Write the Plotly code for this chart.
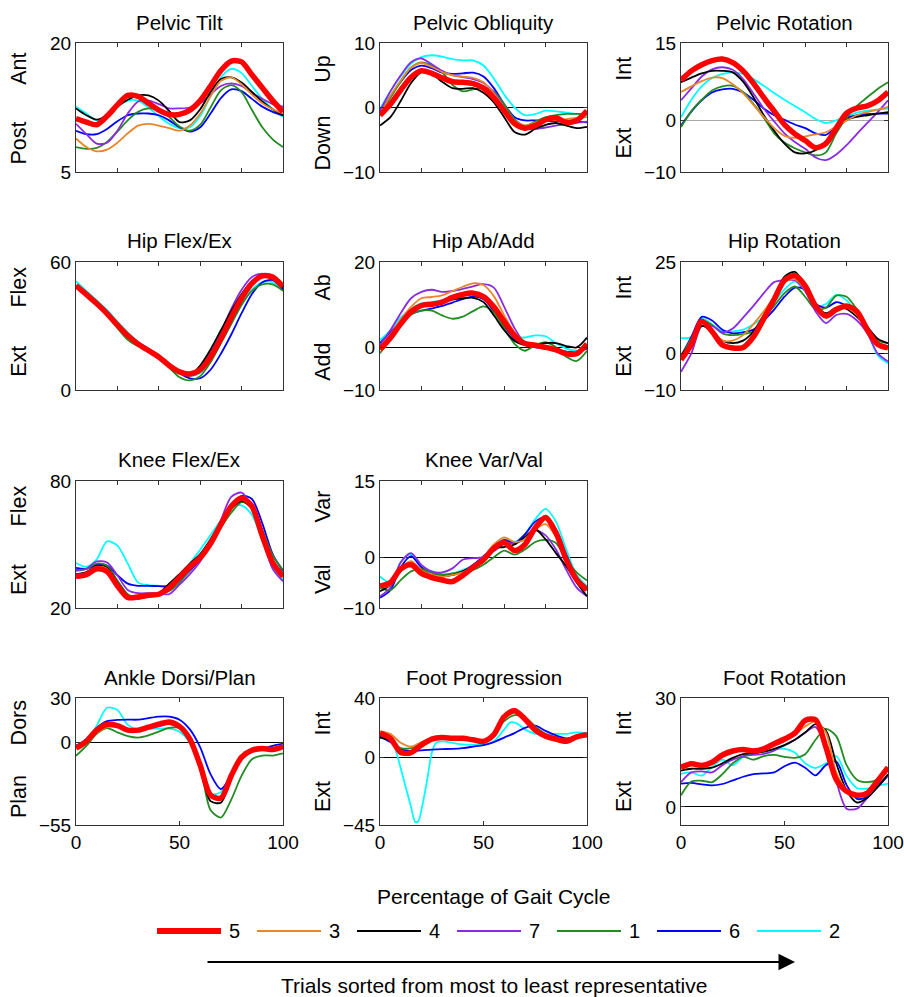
import plotly.graph_objects as go

# ---------------- data ----------------
PCT = [0, 5, 10, 15, 20, 25, 30, 35, 40, 45, 50, 55, 60, 65, 70, 75, 80, 85, 90, 95, 100]
TRIALS = ["5", "3", "4", "7", "1", "6", "2"]
TRIAL_COLORS = ["#ff0000", "#e8862a", "#000000", "#8a2be2", "#228b22", "#0000ff", "#00ffff"]

PELVIC_TILT = {
    "5": [11.2, 10.8, 10.5, 11.5, 12.8, 13.9, 13.8, 13.0, 12.2, 11.7, 11.7, 12.2, 13.3, 15.0, 16.8, 17.9, 17.8, 16.3, 14.8, 13.3, 12.0],
    "3": [8.9, 7.9, 7.4, 7.6, 8.4, 9.5, 10.4, 10.6, 10.4, 10.1, 9.8, 10.4, 11.8, 13.8, 15.6, 16.0, 15.2, 14.0, 13.0, 12.3, 11.8],
    "4": [12.4, 11.6, 11.1, 11.6, 12.6, 13.4, 13.9, 13.9, 13.3, 12.1, 10.8, 11.0, 12.3, 14.3, 15.8, 16.0, 15.4, 14.3, 13.2, 12.3, 11.6],
    "7": [10.6, 9.4, 8.3, 8.4, 9.8, 11.8, 13.2, 13.3, 12.9, 12.4, 12.4, 12.5, 13.0, 14.0, 15.0, 15.3, 15.0, 14.2, 13.5, 12.9, 12.6],
    "1": [7.9, 7.7, 7.8, 8.5, 9.7, 11.0, 12.0, 12.4, 12.2, 11.4, 10.3, 9.8, 10.5, 12.5, 14.5, 15.1, 14.3, 12.2, 10.2, 8.8, 7.9],
    "6": [9.8, 9.4, 9.4, 10.0, 10.9, 11.6, 11.8, 11.8, 11.6, 11.0, 10.2, 9.7, 10.2, 11.8, 13.6, 14.6, 14.4, 13.5, 12.6, 12.0, 11.6],
    "2": [12.6, 11.8, 11.0, 11.6, 12.6, 13.3, 13.3, 12.5, 11.5, 10.6, 10.1, 10.2, 11.5, 13.8, 16.0, 17.0, 16.5, 15.0, 13.5, 12.3, 11.4],
}
PELVIC_OBLIQUITY = {
    "5": [-1.2, 0.5, 2.7, 4.7, 5.7, 5.3, 4.6, 4.0, 3.9, 3.7, 3.0, 1.5, -0.5, -2.5, -3.2, -2.8, -1.9, -1.6, -2.3, -2.0, -0.5],
    "3": [-1.0, 1.8, 4.2, 6.2, 6.9, 6.3, 5.5, 5.0, 4.8, 4.6, 3.9, 2.2, 0.0, -2.0, -2.8, -2.4, -2.0, -2.0, -1.8, -1.6, -1.5],
    "4": [-2.8, -1.5, 1.0, 3.8, 5.5, 5.2, 4.0, 3.0, 2.9, 3.0, 2.3, 0.8, -1.5, -3.8, -4.2, -3.3, -2.7, -2.4, -2.8, -3.2, -3.0],
    "7": [-0.5, 2.5, 5.0, 7.0, 7.6, 6.7, 5.7, 5.0, 4.7, 4.4, 3.8, 2.4, 0.0, -2.5, -3.3, -3.3, -3.1, -2.8, -2.6, -2.4, -2.2],
    "1": [-1.2, 1.5, 4.0, 6.2, 7.0, 6.5, 5.5, 3.5, 2.5, 2.8, 3.1, 2.5, 0.5, -1.8, -2.8, -2.2, -1.5, -1.2, -1.0, -1.0, -1.0],
    "6": [-0.7, 1.8, 4.0, 5.8, 6.5, 6.1, 5.4, 5.2, 5.3, 5.4, 4.8, 3.0, 0.5, -1.5, -2.0, -2.0, -2.1, -2.1, -2.1, -2.2, -2.3],
    "2": [-0.2, 2.5, 4.8, 6.8, 7.8, 8.1, 7.9, 7.5, 7.3, 7.3, 6.5, 4.5, 2.0, 0.0, -1.2, -1.0, -0.5, -0.6, -0.8, -1.0, -1.2],
}
PELVIC_ROTATION = {
    "5": [7.8, 9.6, 10.8, 11.6, 11.9, 11.2, 9.6, 7.2, 4.4, 1.8, -0.8, -2.6, -3.9, -5.3, -4.5, -1.5, 1.4, 2.4, 2.8, 3.8, 5.5],
    "3": [5.5, 6.6, 7.6, 8.3, 8.2, 7.0, 5.3, 3.0, 0.7, -1.5, -3.0, -3.4, -3.1, -2.7, -2.3, -1.2, 0.0, 1.0, 1.6, 2.1, 2.6],
    "4": [7.4, 8.3, 9.1, 9.6, 9.6, 9.3, 7.5, 4.5, 1.0, -2.0, -4.5, -6.2, -6.4, -5.8, -4.0, -1.6, 0.1, 0.7, 1.0, 1.3, 1.6],
    "7": [3.9, 6.2, 8.5, 9.9, 10.3, 9.8, 8.0, 5.2, 2.3, -0.2, -2.5, -4.2, -5.5, -7.2, -7.7, -6.6, -4.8, -2.6, -0.5, 1.6, 3.9],
    "1": [-1.3, 1.8, 4.0, 5.8, 6.6, 6.7, 5.5, 3.2, 0.5, -2.5, -4.3, -5.4, -6.2, -6.8, -6.2, -2.5, 0.5, 2.8, 4.5, 6.1, 7.4],
    "6": [-1.0, 1.7, 3.9, 5.4, 6.0, 6.1, 5.4, 4.0, 2.3, 1.0, 0.1, -0.8, -1.5, -2.5, -2.8, -1.2, 0.5, 1.0, 1.2, 1.3, 1.3],
    "2": [0.6, 4.0, 6.6, 8.2, 9.0, 9.3, 9.0, 8.0, 6.7, 5.3, 4.0, 2.8, 1.6, 0.3, -0.5, 0.0, 0.8, 1.5, 1.9, 2.1, 2.3],
}
HIP_FLEX_EX = {
    "5": [49.0, 44.8, 40.5, 35.8, 30.5, 25.5, 21.5, 18.5, 15.5, 11.5, 8.5, 7.5, 9.5, 15.5, 24.0, 34.0, 43.0, 50.0, 53.5, 52.8, 48.5],
    "3": [49.0, 44.5, 40.0, 35.0, 29.5, 24.5, 21.5, 18.5, 15.5, 11.5, 8.5, 7.5, 9.5, 15.0, 23.5, 33.5, 43.0, 50.0, 54.0, 54.0, 49.0],
    "4": [48.5, 44.5, 40.5, 36.0, 30.5, 25.5, 22.0, 19.0, 15.5, 11.5, 8.0, 7.0, 11.5, 19.0, 28.0, 37.0, 45.0, 51.0, 53.5, 52.5, 48.0],
    "7": [48.0, 44.0, 40.0, 35.5, 30.5, 26.0, 22.5, 19.5, 16.0, 11.5, 8.0, 7.5, 10.5, 17.5, 27.0, 38.0, 47.0, 53.0, 54.5, 53.0, 48.5],
    "1": [48.0, 44.0, 40.0, 35.0, 29.0, 23.5, 20.5, 18.0, 15.0, 10.5, 6.0, 4.5, 6.5, 13.0, 22.0, 31.0, 40.0, 46.5, 49.5, 49.5, 46.5],
    "6": [48.0, 44.5, 40.5, 36.0, 31.0, 26.0, 22.0, 19.0, 16.0, 12.0, 8.0, 5.5, 5.5, 9.5, 17.0, 26.0, 36.0, 45.0, 50.5, 51.5, 47.0],
    "2": [51.0, 46.5, 42.0, 37.5, 32.0, 27.0, 22.5, 19.0, 15.5, 11.5, 8.0, 6.5, 8.0, 13.5, 22.0, 31.0, 40.0, 47.0, 50.5, 50.5, 46.5],
}
HIP_AB_ADD = {
    "5": [-0.5, 2.2, 5.5, 8.3, 9.8, 10.1, 10.6, 11.7, 12.4, 12.7, 11.9, 9.5, 6.0, 2.8, 0.9, 0.5, 0.0, -0.6, -1.5, -1.5, 0.8],
    "3": [0.0, 3.0, 6.5, 9.5, 11.5, 11.8, 12.2, 13.2, 14.2, 15.0, 14.6, 12.0, 7.5, 3.5, 1.2, 0.5, 0.0, -0.5, -1.3, -1.0, 0.5],
    "4": [-0.3, 2.5, 5.5, 8.0, 9.5, 10.0, 10.5, 11.2, 11.5, 11.6, 10.6, 7.5, 4.0, 1.5, 0.5, 0.5, 1.0, 1.0, 0.3, 0.0, 2.3],
    "7": [0.5, 4.0, 8.0, 11.5, 13.0, 13.5, 13.0, 13.2, 13.7, 14.3, 14.8, 14.0, 9.5, 4.5, 1.0, 0.0, -0.3, -0.6, -1.2, -1.0, 0.2],
    "1": [-1.4, 2.0, 5.5, 7.7, 8.6, 8.6, 7.5, 6.7, 7.2, 8.5, 9.6, 8.2, 4.5, 0.8, -0.8, 0.5, 1.2, 0.0, -2.2, -3.2, -0.8],
    "6": [1.0, 3.5, 6.0, 7.8, 8.6, 9.1, 9.7, 10.5, 11.3, 11.9, 11.3, 8.5, 5.0, 2.0, 0.5, 0.2, 0.0, -0.4, -1.0, -1.0, -0.3],
    "2": [1.7, 4.0, 7.0, 9.0, 10.3, 10.6, 11.0, 11.8, 12.3, 12.5, 11.5, 9.0, 5.5, 2.5, 2.3, 2.8, 2.6, 1.0, -0.3, -0.8, -0.3],
}
HIP_ROTATION = {
    "5": [-1.7, 2.5, 8.8, 6.0, 2.3, 1.5, 1.6, 4.5, 9.5, 14.8, 20.0, 21.3, 18.5, 13.0, 10.2, 12.0, 13.0, 11.5, 6.5, 2.5, 1.5],
    "3": [-1.0, 3.0, 8.5, 6.5, 3.5, 3.5, 5.0, 8.0, 11.5, 15.5, 19.5, 20.3, 17.5, 12.5, 10.5, 12.5, 12.5, 10.5, 6.5, 3.0, 1.5],
    "4": [-0.4, 3.0, 7.5, 6.0, 3.5, 2.8, 3.5, 6.0, 10.5, 15.5, 21.0, 22.3, 18.5, 13.0, 11.0, 12.5, 12.2, 10.0, 7.2, 4.0, 2.8],
    "7": [-5.0, 0.0, 7.5, 7.5, 5.8, 6.8, 9.8, 13.0, 16.5, 19.5, 20.0, 20.0, 17.0, 11.5, 8.3, 10.5, 10.8, 9.0, 5.5, 0.0, -2.2],
    "1": [-0.8, 4.0, 9.0, 7.8, 5.5, 5.0, 5.3, 6.0, 9.5, 13.0, 16.5, 18.3, 15.5, 12.0, 12.5, 15.8, 15.5, 12.0, 7.5, 3.5, 2.8],
    "6": [-0.8, 4.5, 10.0, 9.0, 6.5, 5.5, 5.8, 6.5, 9.0, 12.0, 15.5, 18.0, 17.5, 13.5, 12.5, 14.0, 13.0, 10.5, 7.0, 3.0, 1.9],
    "2": [4.2, 4.5, 9.5, 8.0, 6.0, 6.0, 6.5, 8.0, 10.0, 14.0, 17.5, 19.7, 17.0, 13.0, 13.5, 16.0, 14.5, 11.0, 6.0, -0.5, -2.7],
}
KNEE_FLEX_EX = {
    "5": [35.0, 35.8, 38.5, 37.3, 30.5, 25.0, 25.2, 26.0, 26.5, 29.5, 34.5, 39.5, 43.8, 50.5, 59.5, 68.0, 72.0, 68.0, 54.0, 41.5, 35.0],
    "3": [35.5, 36.5, 39.5, 38.5, 31.5, 26.0, 25.5, 26.5, 27.0, 30.0, 35.0, 40.0, 44.5, 51.5, 60.5, 68.5, 72.5, 68.5, 54.5, 41.0, 34.5],
    "4": [36.0, 37.0, 40.0, 39.0, 32.0, 26.0, 24.5, 25.5, 27.0, 31.5, 36.0, 41.0, 45.5, 52.5, 60.5, 67.0, 70.5, 67.0, 55.0, 42.0, 36.0],
    "7": [38.0, 38.5, 42.0, 41.5, 35.5, 28.5, 27.0, 27.0, 27.0, 26.5, 31.0, 36.0, 42.0, 50.5, 61.5, 72.5, 74.5, 67.5, 53.0, 38.5, 32.6],
    "1": [37.5, 38.5, 41.0, 40.0, 33.0, 26.5, 24.5, 25.5, 26.5, 28.0, 32.0, 38.0, 44.0, 51.0, 58.0, 65.0, 70.0, 68.0, 57.0, 45.0, 38.0],
    "6": [39.0, 38.5, 40.5, 40.0, 35.5, 31.5, 30.5, 30.5, 30.3, 30.3, 33.0, 37.5, 43.0, 50.5, 59.5, 67.5, 73.0, 71.5, 60.0, 45.5, 37.5],
    "2": [41.3, 39.5, 43.0, 51.5, 49.5, 41.0, 32.0, 30.8, 30.5, 30.5, 34.0, 41.0, 47.5, 54.5, 61.5, 68.0, 68.5, 64.0, 52.0, 39.0, 33.4],
}
KNEE_VAR_VAL = {
    "5": [-5.7, -5.0, -2.3, -1.5, -3.2, -4.0, -4.5, -4.8, -3.6, -2.0, -0.5, 1.8, 2.9, 1.3, 2.5, 5.8, 7.8, 4.8, -0.5, -4.4, -6.4],
    "3": [-6.0, -5.5, -2.3, -0.8, -2.5, -3.5, -3.8, -3.5, -3.0, -1.8, 0.0, 2.5, 3.9, 3.0, 3.5, 5.5, 6.5, 4.0, -0.5, -4.5, -6.5],
    "4": [-6.7, -5.5, -2.8, -1.5, -2.5, -3.5, -3.8, -3.5, -2.8, -1.8, -0.3, 1.8, 2.0, 2.5, 4.0, 5.5, 3.5, 0.8, -1.8, -5.0, -7.7],
    "7": [-7.7, -6.0, -1.0, 0.8, -1.5, -2.8, -3.0, -2.2, -0.5, -0.2, 0.0, 1.2, 2.6, 2.8, 3.5, 5.2, 4.3, 1.5, -2.5, -6.0, -7.7],
    "1": [-6.0, -6.5, -4.5, -2.8, -2.3, -3.0, -3.5, -3.2, -2.8, -2.5, -1.5, 0.0, 1.3, 0.5, 1.5, 3.0, 3.4, 2.8, -0.5, -3.0, -4.6],
    "6": [-8.0, -6.5, -2.0, 0.2, -2.0, -3.0, -3.5, -3.5, -2.8, -1.5, 0.2, 2.0, 3.4, 2.8, 4.5, 7.0, 7.8, 5.5, 0.5, -4.0, -6.0],
    "2": [-3.8, -5.0, -1.0, 0.6, -1.8, -2.8, -3.2, -3.2, -2.5, -1.8, -0.5, 1.8, 3.5, 3.0, 4.5, 7.5, 9.5, 7.0, 1.5, -3.5, -5.7],
}
ANKLE_DORSI_PLAN = {
    "5": [-3.6, 1.0, 8.5, 12.3, 11.5, 8.5, 8.5, 10.5, 12.5, 14.0, 11.0, 2.5, -15.0, -35.0, -37.0, -22.0, -9.5, -5.0, -3.8, -4.5, -2.5],
    "3": [-3.0, 0.0, 6.5, 10.5, 10.5, 8.5, 9.0, 10.5, 12.0, 13.5, 11.0, 2.5, -15.0, -35.0, -37.0, -22.0, -10.0, -5.0, -4.0, -4.5, -2.5],
    "4": [-3.0, 1.5, 9.0, 12.0, 11.0, 8.5, 9.0, 10.5, 12.0, 13.0, 10.5, 2.0, -17.0, -39.0, -40.0, -24.0, -10.0, -5.0, -4.0, -4.0, -2.5],
    "7": [-3.0, 1.5, 9.0, 12.5, 11.5, 9.0, 8.5, 9.5, 11.0, 12.5, 10.5, 2.0, -15.0, -34.0, -36.0, -22.0, -9.5, -5.0, -4.0, -4.0, -2.0],
    "1": [-8.7, -2.0, 6.0, 9.8, 7.0, 4.5, 3.5, 5.0, 7.5, 10.0, 10.0, 3.0, -15.0, -45.0, -50.0, -38.0, -22.0, -11.0, -8.5, -8.5, -7.0],
    "6": [-2.0, 2.5, 10.0, 14.5, 15.3, 15.5, 15.5, 16.5, 17.5, 17.5, 15.5, 9.0, -3.0, -21.0, -31.0, -22.0, -11.0, -6.0, -4.0, -2.0, -0.5],
    "2": [-3.0, 1.0, 11.5, 23.5, 22.0, 12.0, 9.0, 9.5, 9.5, 9.5, 7.5, 0.0, -17.0, -34.0, -33.0, -20.0, -10.0, -6.0, -5.0, -4.5, -3.0],
}
FOOT_PROGRESSION = {
    "5": [16.5, 13.0, 3.5, 3.5, 8.5, 12.5, 13.5, 13.0, 13.0, 12.0, 11.0, 15.5, 27.5, 31.5, 26.0, 18.5, 14.5, 12.5, 11.0, 14.0, 15.4],
    "3": [17.7, 16.0, 10.0, 7.5, 10.5, 13.0, 13.5, 13.0, 13.0, 12.0, 11.0, 16.0, 27.0, 32.5, 27.5, 19.5, 15.0, 13.0, 11.5, 14.0, 15.4],
    "4": [13.5, 11.5, 4.0, 3.5, 8.5, 12.5, 13.5, 13.0, 13.0, 12.0, 11.0, 15.5, 27.0, 31.0, 26.0, 19.0, 15.0, 13.0, 11.5, 14.0, 15.4],
    "7": [16.0, 12.5, 4.0, 4.0, 9.0, 12.5, 13.0, 12.5, 12.5, 11.5, 10.5, 15.0, 27.5, 32.5, 26.5, 18.5, 13.5, 12.0, 11.5, 14.5, 16.0],
    "1": [15.4, 11.5, 6.5, 6.5, 10.0, 13.5, 14.0, 13.5, 14.0, 12.5, 11.5, 16.0, 24.5, 28.5, 27.0, 21.0, 16.0, 13.5, 12.5, 14.5, 15.4],
    "6": [14.3, 10.5, 6.0, 4.5, 5.0, 5.5, 5.8, 6.0, 6.5, 7.5, 8.5, 10.5, 13.5, 16.5, 20.0, 21.5, 18.0, 15.0, 13.0, 14.5, 15.4],
}
# trial 2 of foot progression has a sharp dip, read on a finer grid
FOOT_PROGRESSION_2_PCT = [0, 3, 5, 7, 10, 12.5, 15, 17, 18.5, 20, 22.5, 25, 27, 30, 35, 40, 45, 50, 55, 60, 63, 66, 70, 75, 80, 85, 90, 95, 100]
FOOT_PROGRESSION_2 = [13.2, 16.0, 15.5, 8.0, -7.0, -20.0, -33.0, -43.0, -42.5, -35.0, -17.0, 3.0, 10.0, 11.0, 10.0, 9.0, 8.7, 8.7, 11.0, 19.0, 23.7, 23.0, 19.0, 16.0, 15.5, 16.0, 16.0, 17.0, 16.5]
FOOT_ROTATION = {
    "5": [10.9, 11.9, 11.4, 12.3, 14.3, 15.4, 15.8, 15.4, 16.0, 17.4, 18.7, 20.3, 23.8, 24.0, 16.5, 7.5, 4.3, 3.2, 3.8, 7.2, 10.9],
    "3": [10.5, 12.0, 11.5, 12.0, 13.8, 15.0, 15.5, 15.2, 15.6, 16.8, 18.0, 19.8, 22.2, 23.5, 20.5, 9.5, 4.8, 3.2, 4.0, 7.0, 10.0],
    "4": [10.0, 10.5, 10.5, 10.8, 12.0, 13.5, 14.5, 14.8, 15.2, 16.0, 17.0, 18.5, 20.5, 22.8, 21.0, 12.0, 4.5, 1.2, 2.5, 5.5, 9.0],
    "7": [6.8, 9.5, 9.8, 9.5, 11.5, 13.0, 14.0, 14.3, 14.6, 15.5, 17.0, 18.5, 20.5, 22.0, 16.0, 7.0, -0.5, -0.5, 2.5, 6.0, 8.6],
    "1": [3.2, 7.0, 7.2, 6.8, 9.0, 12.0, 13.8, 13.0, 14.0, 14.3, 13.8, 13.5, 14.5, 18.5, 21.5, 19.5, 11.5, 7.5, 6.8, 7.5, 10.5],
    "6": [6.4, 6.6, 6.2, 5.9, 6.3, 7.3, 8.3, 9.0, 9.2, 9.5, 11.2, 12.2, 10.8, 8.7, 11.5, 12.5, 6.0, 2.2, 2.8, 5.5, 8.6],
    "2": [9.1, 9.5, 8.6, 11.0, 13.0, 11.5, 13.8, 14.8, 15.2, 15.8, 16.0, 15.0, 12.0, 10.7, 12.0, 14.0, 8.5, 5.2, 5.0, 5.8, 6.4],
}

# ---------------- layout helpers ----------------
W, H = 904, 997
FONT = "Liberation Sans, Arial, Helvetica, sans-serif"
COL_LEFT = [76, 380, 681]
COL_W = 207
ROW_TOP = [43, 262, 481, 698]
ROW_H = [129, 128, 127, 127]

# title, data, row, col, y range, y ticks, upper label, lower label, zero-line colour
PANELS = [
    ("Pelvic Tilt", PELVIC_TILT, 0, 0, [5, 20], [5, 20], "Ant", "Post", None),
    ("Pelvic Obliquity", PELVIC_OBLIQUITY, 0, 1, [-10, 10], [-10, 0, 10], "Up", "Down", "#000000"),
    ("Pelvic Rotation", PELVIC_ROTATION, 0, 2, [-10, 15], [-10, 0, 15], "Int", "Ext", "#a8a8a8"),
    ("Hip Flex/Ex", HIP_FLEX_EX, 1, 0, [0, 60], [0, 60], "Flex", "Ext", None),
    ("Hip Ab/Add", HIP_AB_ADD, 1, 1, [-10, 20], [-10, 0, 20], "Ab", "Add", "#000000"),
    ("Hip Rotation", HIP_ROTATION, 1, 2, [-10, 25], [-10, 0, 25], "Int", "Ext", "#000000"),
    ("Knee Flex/Ex", KNEE_FLEX_EX, 2, 0, [20, 80], [20, 80], "Flex", "Ext", None),
    ("Knee Var/Val", KNEE_VAR_VAL, 2, 1, [-10, 15], [-10, 0, 15], "Var", "Val", "#000000"),
    ("Ankle Dorsi/Plan", ANKLE_DORSI_PLAN, 3, 0, [-55, 30], [-55, 0, 30], "Dors", "Plan", "#000000"),
    ("Foot Progression", FOOT_PROGRESSION, 3, 1, [-45, 40], [-45, 0, 40], "Int", "Ext", "#000000"),
    ("Foot Rotation", FOOT_ROTATION, 3, 2, [-5, 30], [0, 30], "Int", "Ext", "#000000"),
]

fig = go.Figure()
layout = dict(
    width=W, height=H, margin=dict(l=0, r=0, t=0, b=0, autoexpand=False),
    paper_bgcolor="white", plot_bgcolor="white", showlegend=False,
    font=dict(family=FONT, color="black"),
)
annotations = []
shapes = []

for i, (title, data, r, c, yr, yt, up, down, zc) in enumerate(PANELS):
    n = "" if i == 0 else str(i + 1)
    left, top, h = COL_LEFT[c], ROW_TOP[r], ROW_H[r]
    xd = [left / W, (left + COL_W) / W]
    yd = [1 - (top + h) / H, 1 - top / H]
    bottom_row = (r == 3)
    layout["xaxis" + n] = dict(
        domain=xd, range=[0, 100], anchor="y" + n, automargin=False,
        showline=True, linecolor="#333333", linewidth=1, mirror="ticks",
        ticks="inside", ticklen=4, tickcolor="#333333",
        tickvals=[0, 50, 100] if bottom_row else [20, 40, 60, 80],
        showticklabels=bottom_row, tickfont=dict(size=19),
        showgrid=False, zeroline=False, fixedrange=True,
    )
    layout["yaxis" + n] = dict(
        domain=yd, range=yr, anchor="x" + n, automargin=False,
        showline=True, linecolor="#333333", linewidth=1, mirror="ticks",
        ticks="inside", ticklen=4, tickcolor="#333333",
        tickvals=yt, tickfont=dict(size=19),
        showgrid=False, zeroline=zc is not None,
        zerolinecolor=zc if zc else "black", zerolinewidth=1, fixedrange=True,
    )
    # traces: least representative first so the best (red) is drawn on top
    for k in range(len(TRIALS) - 1, -1, -1):
        t = TRIALS[k]
        if title == "Foot Progression" and t == "2":
            xs, ys = FOOT_PROGRESSION_2_PCT, FOOT_PROGRESSION_2
        else:
            xs, ys = PCT, data[t]
        fig.add_trace(go.Scatter(
            x=xs, y=ys, mode="lines", name=t, legendgroup=t,
            line=dict(color=TRIAL_COLORS[k], width=5.5 if k == 0 else 1.8, shape="spline", smoothing=0.8),
            xaxis="x" + n, yaxis="y" + n, showlegend=False, hoverinfo="skip",
        ))
    # panel title
    annotations.append(dict(
        text=title, xref="paper", yref="paper", x=(left + COL_W / 2) / W, y=1 - (top - 21) / H,
        xanchor="center", yanchor="middle", showarrow=False, font=dict(size=20.5),
    ))
    # direction labels
    for lab, f in ((up, 0.2), (down, 0.78)):
        annotations.append(dict(
            text=lab, xref="paper", yref="paper", x=(left - 57) / W, y=1 - (top + f * h) / H,
            xanchor="center", yanchor="middle", textangle=-90, showarrow=False, font=dict(size=21.5),
        ))

# x axis title
annotations.append(dict(
    text="Percentage of Gait Cycle", xref="paper", yref="paper", x=493 / W, y=1 - 896 / H,
    xanchor="center", yanchor="middle", showarrow=False, font=dict(size=21),
))

# hand-drawn legend row (line samples + trial numbers)
LEG_Y = 1 - 931 / H
LEG_X0, LEG_PITCH, LEG_LEN = 157, 100, 64
for k, t in enumerate(TRIALS):
    x0 = LEG_X0 + k * LEG_PITCH
    shapes.append(dict(
        type="line", xref="paper", yref="paper", x0=x0 / W, x1=(x0 + LEG_LEN) / W, y0=LEG_Y, y1=LEG_Y,
        line=dict(color=TRIAL_COLORS[k], width=6 if k == 0 else 2),
    ))
    annotations.append(dict(
        text=t, xref="paper", yref="paper", x=(x0 + LEG_LEN + 6) / W, y=LEG_Y,
        xanchor="left", yanchor="middle", showarrow=False, font=dict(size=20),
    ))

# arrow
annotations.append(dict(
    text="", xref="paper", yref="paper", x=795 / W, y=1 - 962 / H, ax=-589, ay=0,
    axref="pixel", ayref="pixel", showarrow=True, arrowhead=2, arrowsize=1.5,
    arrowwidth=2.2, arrowcolor="black",
))
annotations.append(dict(
    text="Trials sorted from most to least representative", xref="paper", yref="paper",
    x=494 / W, y=1 - 985 / H, xanchor="center", yanchor="middle", showarrow=False, font=dict(size=21),
))

layout["annotations"] = annotations
layout["shapes"] = shapes
fig.update_layout(**layout)
fig.write_html(
    "out.html",
    config={"displayModeBar": False, "staticPlot": True},
    post_script="document.body.style.margin='0px';document.body.style.overflow='hidden';",
)
